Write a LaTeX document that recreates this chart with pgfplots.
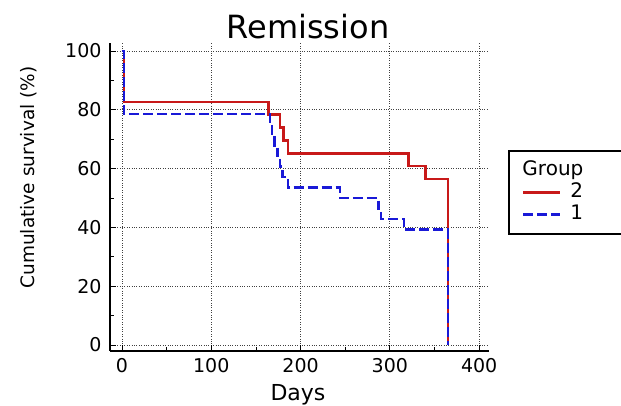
\documentclass[border=0pt]{standalone}
\usepackage{pgfplots}
\pgfplotsset{compat=1.18}
\usepackage{fontspec}
\setmainfont{DejaVu Sans}
\definecolor{kmred}{RGB}{200,25,25}
\definecolor{kmblue}{RGB}{25,25,215}
\begin{document}
\begin{tikzpicture}[x=1pt,y=1pt]
\useasboundingbox (0,0) rectangle (621,406);
\clip (0,0) rectangle (621,406);
\begin{axis}[
  at={(110pt,55pt)}, anchor=south west, scale only axis,
  width=379pt, height=308pt,
  xmin=-13.4, xmax=411, ymin=-2.04, ymax=102.7,
  axis x line*=bottom, axis y line*=left,
  axis line style={-, line width=1.2pt, black},
  xtick={0,100,...,400}, ytick={0,20,...,100},
  minor xtick={50,150,250,350}, minor ytick={10,30,50,70,90},
  tick align=inside, major tick length=6pt, minor tick length=4pt,
  tick style={black, line width=0.8pt},
  grid=major, major grid style={dotted, line width=0.8pt, black!75},
  ticklabel style={font=\fontsize{19}{22}\selectfont},
  /pgf/number format/assume math mode=true,
  xticklabel style={yshift=-4pt}, yticklabel style={xshift=-5pt},
  title={Remission},
  every axis title/.style={at={(0.5224,1.0162)}, anchor=base, font=\fontsize{32}{36}\selectfont},
  xlabel={Days},
  xlabel style={at={(0.496,-0.1623)}, anchor=base, font=\fontsize{22}{26}\selectfont},
  ylabel={Cumulative survival (\%)},
  every axis y label/.style={at={(-0.1979,0.5633)}, rotate=90, anchor=base, font=\fontsize{18.5}{22}\selectfont},
  legend style={at={(1.0501,0.6526)}, anchor=north west, draw=black, line width=2pt,
    font=\fontsize{20}{24}\selectfont, inner xsep=13pt, inner ysep=8.5pt,
    row sep=0pt,
    nodes={text height=15pt, text depth=5pt, inner sep=1pt},
    /tikz/every odd column/.append style={column sep=8pt}},
  legend cell align=left,
  legend image code/.code={\draw[#1] (0pt,0pt) -- (37pt,0pt);},
]
\addlegendimage{empty legend}
\addlegendentry{\hspace*{-48pt}Group}
\addplot[const plot, kmred, line width=2.5pt] coordinates {
 (0,100) (2,82.6) (164,78.3) (177,73.9) (181,69.6) (186,65.2) (321,60.9) (340,56.5) (365,0)
};
\addlegendentry{2\hspace*{90pt}}
\addplot[const plot, kmblue, line width=2.5pt, dash pattern=on 10pt off 4pt] coordinates {
 (0,100) (2,78.6) (166,75) (168,71.4) (171,67.9) (174,64.3) (177,60.7) (180,57.1) (186,53.6) (244,50) (287,46.4) (290,42.9) (316,39.3) (365,0)
};
\addlegendentry{1}
\end{axis}
\end{tikzpicture}
\end{document}
